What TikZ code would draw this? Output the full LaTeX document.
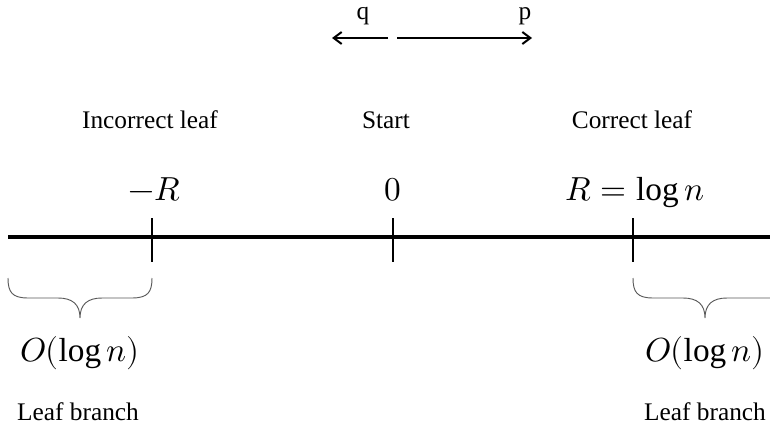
\documentclass[tikz,border=0pt]{standalone}
\usepackage{fontspec}
\setmainfont{Liberation Serif}
\usepackage{unicode-math}
\setmathfont{Latin Modern Math}
\usetikzlibrary{arrows.meta}
\begin{document}
\begin{tikzpicture}[x=0.75pt,y=-0.75pt,
  lbl/.style={font=\fontsize{19}{22}\selectfont, inner sep=0pt, anchor=base},
  mlbl/.style={font=\fontsize{25}{28}\selectfont, inner sep=0pt, anchor=base},
  small/.style={font=\fontsize{19}{22}\selectfont, inner sep=0pt, anchor=base},
  axis/.style={line width=3.6pt},
  tick/.style={line width=2pt},
  dirarrow/.style={line width=1.5pt, -{Straight Barb[length=6pt,width=9pt,line width=1.5pt]}},
  bracepath/.style={line width=0.7pt, draw=black!65}
]
\useasboundingbox (0,0) rectangle (770,435);

% direction arrows
\node[small] (q) at (363,20) {q};
\node[small] (p) at (525,20) {p};
\coordinate (qs) at (388,38);
\coordinate (qe) at (332,38);
\coordinate (ps) at (397,38);
\coordinate (pe) at (532,38);
\draw[dirarrow] (qs) -- (qe);
\draw[dirarrow] (ps) -- (pe);

% headings
\node[lbl] (inc) at (150,128) {Incorrect leaf};
\node[lbl] (start) at (386,128) {Start};
\node[lbl] (cor) at (632,128) {Correct leaf};

% tick labels
\node[mlbl] (mR) at (155,200) {$-R$};
\node[mlbl] (zero) at (393,200) {$0$};
\node[mlbl] (pR) at (635,200) {$R=\log n$};

% axis
\coordinate (a0) at (8,237);
\coordinate (a1) at (775,237);
\draw[axis] (a0) -- (a1);
\foreach \n/\x in {t1/152,t2/393,t3/633}{
  \coordinate (\n top) at (\x,218);
  \coordinate (\n bot) at (\x,262);
  \draw[tick] (\n top) -- (\n bot);
}

% braces
\draw[bracepath] (8,278) .. controls (8,292) and (12,298) .. (28,298)
  -- (58,298) .. controls (72,298) and (80,304) .. (80,318)
  .. controls (80,304) and (88,298) .. (102,298)
  -- (132,298) .. controls (148,298) and (152,292) .. (152,278);
\draw[bracepath] (633,278) .. controls (633,292) and (637,298) .. (653,298)
  -- (683,298) .. controls (697,298) and (705,304) .. (705,318)
  .. controls (705,304) and (713,298) .. (727,298)
  -- (780,298);

% brace labels
\node[mlbl] (oleft) at (80,361) {$O(\log n)$};
\node[mlbl] (oright) at (705,361) {$O(\log n)$};
\node[lbl] (lb1) at (78,420) {Leaf branch};
\node[lbl] (lb2) at (705,420) {Leaf branch};
\end{tikzpicture}
\end{document}
